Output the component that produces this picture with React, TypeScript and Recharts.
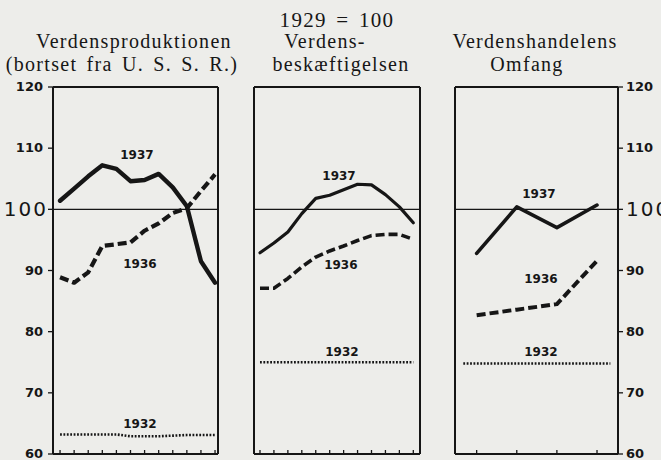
import React from 'react';
import { LineChart, Line, XAxis, YAxis, ReferenceLine, ReferenceDot } from 'recharts';

const INK = '#161616';
const PAPER = '#ededea';

// x positions (months of the year)
const months = [1, 2, 3, 4, 5, 6, 7, 8, 9, 10, 11, 12];
const quarterMonths = [2, 5, 8, 11];
const yearSpan = [1, 12];
const yTicks = [60, 70, 80, 90, 100, 110, 120];

// Verdensproduktionen (bortset fra U.S.S.R.), 1929 = 100
const prod1937 = [101.4, 103.4, 105.4, 107.2, 106.6, 104.6, 104.8, 105.8, 103.6, 100.5, 91.5, 88.0];
const prod1936 = [88.9, 88.0, 89.7, 94.0, 94.3, 94.6, 96.5, 97.7, 99.4, 100.2, 103.0, 105.7];
const prod1932 = [63.2, 63.2, 63.2, 63.2, 63.2, 62.9, 62.9, 62.9, 63.0, 63.1, 63.1, 63.1];

// Verdensbeskæftigelsen
const emp1937 = [92.9, 94.5, 96.3, 99.3, 101.8, 102.3, 103.2, 104.1, 104.0, 102.4, 100.4, 97.8];
const emp1936 = [87.1, 87.1, 88.7, 90.6, 92.2, 93.2, 94.0, 94.9, 95.7, 95.9, 95.9, 95.1];
const emp1932 = [75.0, 75.0];

// Verdenshandelens Omfang (quarterly)
const trade1937 = [92.8, 100.4, 97.0, 100.7];
const trade1936 = [82.7, 83.6, 84.5, 91.6];
const trade1932 = [74.8, 74.8];

const yearLabels = ['1937', '1936', '1932'];
const baseTitle = '1929 = 100';
const panelTitles = [
  ['Verdensproduktionen', '(bortset fra U. S. S. R.)'],
  ['Verdens-', 'beskæftigelsen'],
  ['Verdenshandelens', 'Omfang'],
];

const zip = (xs: number[], ys: number[]) => xs.map((m, i) => ({ m, v: ys[i] }));

const LABEL_FONT = 'DejaVu Sans, sans-serif';
const TITLE_FONT = 'Liberation Serif, serif';

const LeftTick = (p: any) => {
  const big = p.payload.value === 100;
  return (
    <text
      x={p.x + (big ? 5 : 0)}
      y={p.y}
      dy={big ? 7 : 4}
      textAnchor="end"
      fontFamily={LABEL_FONT}
      fontWeight={big ? 400 : 700}
      fontSize={big ? 20 : 13}
      letterSpacing={big ? 2 : 0}
      fill={INK}
    >
      {p.payload.value}
    </text>
  );
};

const RightTick = (p: any) => {
  const big = p.payload.value === 100;
  return (
    <text
      x={p.x}
      y={p.y}
      dy={big ? 7 : 4}
      textAnchor="start"
      fontFamily={LABEL_FONT}
      fontWeight={big ? 400 : 700}
      fontSize={big ? 20 : 13}
      letterSpacing={big ? 2 : 0}
      fill={INK}
    >
      {p.payload.value}
    </text>
  );
};

// small upward tick marks on the bottom frame
const BottomTick = (p: any) => (
  <line x1={p.x} x2={p.x} y1={p.y} y2={p.y - 4} stroke={INK} strokeWidth={1.3} />
);

type Series = { data: { m: number; v: number }[]; kind: 'solid' | 'dash' | 'dot' };
type Lbl = { x: number; y: number; text: string };

function Panel(props: {
  plotLeft: number;
  plotW: number;
  leftW: number;
  rightW: number;
  domain: [number, number];
  xTicks: number[];
  series: Series[];
  labels: Lbl[];
  leftLabels: boolean;
  rightLabels: boolean;
  solidW: number;
  dashW: number;
}) {
  const { plotLeft, plotW, leftW, rightW, domain, xTicks, series, labels, leftLabels, rightLabels, solidW, dashW } = props;
  const width = leftW + plotW + rightW;
  return (
    <div style={{ position: 'absolute', left: plotLeft - leftW, top: 0 }}>
      <LineChart width={width} height={460} margin={{ top: 87, right: 0, bottom: 5, left: 0 }}>
        <XAxis
          type="number"
          dataKey="m"
          domain={domain}
          allowDataOverflow
          ticks={xTicks}
          interval={0}
          height={1}
          tickSize={0}
          tickMargin={0}
          tickLine={false}
          tick={(p: any) => <BottomTick {...p} />}
          axisLine={{ stroke: INK, strokeWidth: 2 }}
        />
        <YAxis
          type="number"
          domain={[60, 120]}
          allowDataOverflow
          ticks={yTicks}
          interval={0}
          width={leftW}
          tickSize={5}
          tickMargin={5}
          tick={leftLabels ? (p: any) => <LeftTick {...p} /> : false}
          tickLine={{ stroke: INK, strokeWidth: 1.3 }}
          axisLine={{ stroke: INK, strokeWidth: 2 }}
        />
        <YAxis
          yAxisId="r"
          orientation="right"
          type="number"
          domain={[60, 120]}
          allowDataOverflow
          ticks={yTicks}
          interval={0}
          width={rightW}
          tickSize={5}
          tickMargin={3}
          tick={rightLabels ? (p: any) => <RightTick {...p} /> : false}
          tickLine={{ stroke: INK, strokeWidth: 1.3 }}
          axisLine={{ stroke: INK, strokeWidth: 2 }}
        />
        <ReferenceLine y={120} stroke={INK} strokeWidth={2} />
        <ReferenceLine y={100} stroke={INK} strokeWidth={1.2} />
        {series.map((s, i) => (
          <Line
            key={i}
            data={s.data}
            dataKey="v"
            type="linear"
            dot={false}
            activeDot={false}
            isAnimationActive={false}
            stroke={INK}
            strokeWidth={s.kind === 'solid' ? solidW : s.kind === 'dash' ? dashW : 2.6}
            strokeDasharray={s.kind === 'dash' ? '9 4' : s.kind === 'dot' ? '1.8 1.6' : undefined}
            strokeLinejoin="round"
            strokeLinecap={s.kind === 'solid' ? 'round' : 'butt'}
          />
        ))}
        {labels.map((l, i) => (
          <ReferenceDot
            key={i}
            x={l.x}
            y={l.y}
            r={0}
            fill="none"
            stroke="none"
            label={{
              value: l.text,
              position: 'center',
              fill: INK,
              fontSize: 12,
              fontWeight: 700,
              fontFamily: LABEL_FONT,
            }}
          />
        ))}
      </LineChart>
    </div>
  );
}

export default function App() {
  const titleStyle = { fontFamily: TITLE_FONT, fill: INK, letterSpacing: 1.3 } as const;
  return (
    <div
      style={{
        position: 'absolute',
        left: 0,
        top: 0,
        width: 661,
        height: 460,
        background: PAPER,
        overflow: 'hidden',
      }}
    >
      <svg width={661} height={80} style={{ position: 'absolute', left: 0, top: 0 }}>
        <text x={337} y={27} textAnchor="middle" fontSize={21} wordSpacing={3} {...titleStyle}>
          {baseTitle}
        </text>
        <text x={134} y={48} textAnchor="middle" fontSize={20} {...titleStyle}>
          {panelTitles[0][0]}
        </text>
        <text x={122} y={71} textAnchor="middle" fontSize={20} wordSpacing={3} {...titleStyle}>
          {panelTitles[0][1]}
        </text>
        <text x={325} y={48} textAnchor="middle" fontSize={20} {...titleStyle}>
          {panelTitles[1][0]}
        </text>
        <text x={341} y={71} textAnchor="middle" fontSize={20} {...titleStyle}>
          {panelTitles[1][1]}
        </text>
        <text x={535} y={48} textAnchor="middle" fontSize={20} {...titleStyle}>
          {panelTitles[2][0]}
        </text>
        <text x={527} y={71} textAnchor="middle" fontSize={20} {...titleStyle}>
          {panelTitles[2][1]}
        </text>
      </svg>

      <Panel
        plotLeft={53}
        plotW={165}
        leftW={53}
        rightW={8}
        domain={[0.5, 12.21]}
        xTicks={months}
        leftLabels
        rightLabels={false}
        solidW={4.4}
        dashW={4.2}
        series={[
          { data: zip(months, prod1937), kind: 'solid' },
          { data: zip(months, prod1936), kind: 'dash' },
          { data: zip(months, prod1932), kind: 'dot' },
        ]}
        labels={[
          { x: 6.46, y: 109.0, text: yearLabels[0] },
          { x: 6.67, y: 91.1, text: yearLabels[1] },
          { x: 6.67, y: 64.9, text: yearLabels[2] },
        ]}
      />
      <Panel
        plotLeft={254}
        plotW={166}
        leftW={8}
        rightW={8}
        domain={[0.57, 12.48]}
        xTicks={months}
        leftLabels={false}
        rightLabels={false}
        solidW={3.2}
        dashW={3.6}
        series={[
          { data: zip(months, emp1937), kind: 'solid' },
          { data: zip(months, emp1936), kind: 'dash' },
          { data: zip(yearSpan, emp1932), kind: 'dot' },
        ]}
        labels={[
          { x: 6.67, y: 105.5, text: yearLabels[0] },
          { x: 6.8, y: 91.0, text: yearLabels[1] },
          { x: 6.88, y: 76.7, text: yearLabels[2] },
        ]}
      />
      <Panel
        plotLeft={455}
        plotW={163}
        leftW={8}
        rightW={43}
        domain={[0.38, 12.57]}
        xTicks={quarterMonths}
        leftLabels={false}
        rightLabels
        solidW={3.6}
        dashW={4}
        series={[
          { data: zip(quarterMonths, trade1937), kind: 'solid' },
          { data: zip(quarterMonths, trade1936), kind: 'dash' },
          { data: zip(yearSpan, trade1932), kind: 'dot' },
        ]}
        labels={[
          { x: 6.66, y: 102.6, text: yearLabels[0] },
          { x: 6.81, y: 88.7, text: yearLabels[1] },
          { x: 6.81, y: 76.8, text: yearLabels[2] },
        ]}
      />
    </div>
  );
}
